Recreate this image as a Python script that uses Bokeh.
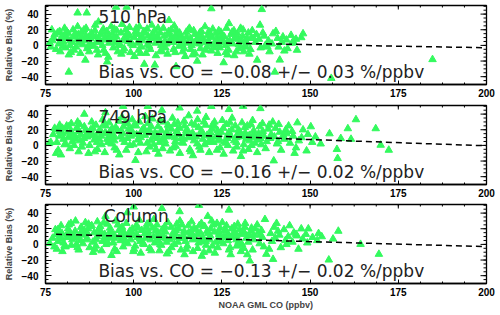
import numpy as np
from bokeh.plotting import figure
from bokeh.layouts import column
from bokeh.models import LinearAxis, Range1d, FixedTicker, Label
from bokeh.embed import file_html
from bokeh.resources import INLINE

# ---------------- data ----------------
panel_titles = ["510 hPa", "749 hPa", "Column"]
bias_texts = ["Bias vs. CO = \u22120.08 +/\u2212 0.03 %/ppbv",
              "Bias vs. CO = \u22120.16 +/\u2212 0.02 %/ppbv",
              "Bias vs. CO = \u22120.13 +/\u2212 0.02 %/ppbv"]
slopes = [-0.08, -0.16, -0.13]
intercepts = [13.0, 31.5, 23.1]
fit_x = [78.0, 200.0]
x_ticks = [75, 100, 125, 150, 175, 200]
y_ticks = [-40, -20, 0, 20, 40]
x_label = "NOAA GML CO (ppbv)"
y_label = "Relative Bias (%)"

x_510 = [76.2, 76.5, 76.8, 77.3, 77.6, 77.0, 78.0, 78.4,
         79.0, 79.4, 78.8, 79.2, 80.3, 80.0, 80.7, 80.4, 81.5, 81.9, 81.2, 81.6,
         82.8, 82.5, 83.1, 82.9, 84.0, 84.3, 83.7, 84.1, 85.2, 85.6, 84.9, 85.3,
         86.5, 86.1, 86.8, 86.4, 87.7, 88.0, 87.4, 87.8, 89.0, 88.7, 89.3, 89.1,
         90.2, 90.6, 89.9, 90.3, 91.4, 91.1, 91.8, 91.5, 92.7, 93.0, 92.4, 92.8,
         93.9, 93.6, 94.2, 94.0, 95.1, 95.5, 94.8, 95.2, 96.4, 96.0, 96.7, 96.5,
         97.6, 97.9, 97.3, 97.7, 98.8, 98.5, 99.1, 98.9, 100.1, 100.5, 99.8, 100.2,
         101.3, 101.0, 101.6, 101.4, 102.5, 102.9, 102.2, 102.6, 103.8, 103.5, 104.1, 103.9,
         105.0, 105.4, 104.7, 105.1, 106.2, 105.9, 106.5, 106.3, 107.5, 107.8, 107.2, 107.6,
         108.7, 108.4, 109.0, 108.8, 109.9, 110.3, 109.6, 110.0, 111.2, 110.9, 111.5, 111.3,
         112.4, 112.8, 112.1, 112.5, 113.6, 113.3, 113.9, 113.7, 114.9, 115.2, 114.6, 115.0,
         116.1, 115.8, 116.4, 116.2, 117.3, 117.7, 117.0, 117.4, 118.6, 118.3, 118.9, 118.7,
         119.8, 120.2, 119.5, 119.9, 121.0, 120.7, 121.3, 121.1, 122.3, 122.6, 122.0, 122.4,
         123.5, 123.2, 123.8, 123.6, 124.7, 125.1, 124.4, 124.8, 126.0, 125.7, 126.3, 126.1,
         127.2, 127.6, 126.9, 127.3, 128.4, 128.1, 128.7, 128.5, 129.7, 130.0, 129.4, 129.8,
         130.9, 130.6, 131.2, 131.0, 132.1, 132.5, 131.8, 132.2,
         133.4, 133.1, 133.6, 134.5, 134.8, 135.8, 135.5, 136.0, 136.3, 137.0, 137.3, 138.2,
         138.5, 139.5, 139.2, 140.0, 140.8, 141.1, 141.4, 142.0, 142.3, 143.3, 143.6, 144.6,
         144.9, 146.0, 146.3, 147.5, 148.0,
         84.1, 86.7, 86.3, 81.6, 95.0, 98.0, 92.5, 103.0, 106.0, 112.0, 122.0, 118.0,
         135.0, 156.0, 184.7, 125.5, 110.0, 90.0, 127.0,
         79.6, 82.0, 84.5, 86.9, 89.4, 91.9, 94.4, 96.9, 99.3, 101.8, 104.3, 106.8,
         109.2, 111.7, 114.2, 116.7, 119.1, 121.6, 124.1, 126.6, 129.1, 131.5]
y_510 = [3, -2, 20, 10, 14, 6, -5, 16,
         18, 8, 2, -8, 12, 5, -3, 22, 15, 0, 9, -12,
         20, 4, -6, 11, 7, 14, -2, 24, 17, 1, -10, 10,
         22, 6, -4, 13, 9, 16, -8, 2, 19, -1, 11, 26,
         5, 14, -12, 8, 21, 0, 10, -6, 13, 3, 18, -15,
         7, 24, -3, 15, 11, -8, 4, 19, 16, 2, 27, -11,
         8, 13, -4, 20, 23, 5, -9, 12, 10, 17, 0, -14,
         14, 3, 24, -6, 6, 18, -2, 10, 21, -10, 12, 1,
         9, 15, -5, 26, 3, 19, 11, -13, 16, 0, 8, -7,
         12, 22, -3, 5, 18, 7, -11, 14, 4, 10, 25, -5,
         15, -1, 20, 8, 7, 13, -8, 1, 17, 3, -14, 11,
         9, 22, 0, -5, 14, 5, 19, -10, 2, 11, -4, 16,
         8, 24, -12, 4, 13, -2, 18, 6, 10, 1, -7, 21,
         4, 15, -10, 9, 17, 7, -3, 12, 0, 11, 22, -9,
         6, 14, -6, 3, 19, 2, 10, -13, 8, -4, 15, 1,
         12, 5, -8, 20, 3, 16, -2, 9,
         10, -5, 19, 4, 14, 26, 8, -3, 46, 12, 0, 6,
         -8, 15, 2, -34, 9, -2, -18.6, 4, 11, 7, -4, 13,
         3, 8, -6, 10, 15,
         41.6, 41.6, -18.7, -34, 49, 49, -21, -24, -25, -27, 47, -20,
         -18.7, -42, -18, -22, 32, 30, 28,
         11, 6, 3, 9, 4, 7, 9, 6, 3, 8, 5, 7,
         2, 12, 6, 3, 10, 2, 1, 5, 9, 0]
x_510_more = [79.9, 81.0, 82.2, 83.5, 84.6, 85.9, 87.1, 88.3, 89.6, 90.9, 92.0, 93.3,
              94.5, 95.7, 97.0, 98.2, 99.4, 100.7, 101.9, 103.2, 104.4, 105.6, 106.9, 108.1,
              109.3, 110.6, 111.8, 113.0, 114.3, 115.5, 116.7, 118.0, 119.2, 120.4, 121.7, 122.9,
              124.1, 125.4, 126.6, 127.9, 129.1, 130.3, 131.6, 132.8, 134.0, 136.6, 137.9, 140.3,
              142.7, 145.2]
y_510_more = [-1, 18, -9, 15, 5, 20, -1, 12, -6, 17, -10, 9,
              21, 0, -7, 16, 2, 22, -10, 16, -1, 12, 22, -8,
              3, 20, -9, 16, -4, 20, -12, 8, 18, -6, 14, -3,
              19, 4, -12, 17, -8, 22, 6, -11, 9, 16, -2, 18,
              -7, 5]

x_749 = [76.0, 76.5, 78.0, 77.2, 77.6,
         78.5, 78.9, 78.2, 78.6, 79.0, 79.7, 80.1, 79.4, 79.8, 81.0, 81.4, 80.7, 81.1,
         82.2, 82.6, 81.9, 82.3, 83.4, 83.8, 83.1, 83.5, 84.7, 85.0, 84.4, 84.8,
         85.9, 86.3, 85.6, 86.0, 87.1, 87.5, 86.8, 87.2, 88.4, 88.8, 88.1, 88.5,
         89.6, 90.0, 89.3, 89.7, 90.8, 91.2, 90.5, 90.9, 92.1, 92.5, 91.8, 92.2,
         93.3, 93.7, 93.0, 93.4, 94.5, 94.9, 94.2, 94.6, 95.8, 96.2, 95.5, 95.9,
         97.0, 97.4, 96.7, 97.1, 98.2, 98.6, 97.9, 98.3, 99.5, 99.9, 99.2, 99.6,
         100.7, 101.1, 100.5, 100.8, 101.9, 102.3, 101.6, 102.0, 103.2, 103.6, 102.9, 103.3,
         104.4, 104.8, 104.1, 104.5, 105.6, 106.0, 105.3, 105.7, 106.9, 107.3, 106.6, 107.0,
         108.1, 108.5, 107.8, 108.2, 109.3, 109.7, 109.0, 109.4, 110.6, 111.0, 110.3, 110.7,
         111.8, 112.2, 111.5, 111.9, 113.0, 113.4, 112.7, 113.1, 114.3, 114.7, 114.0, 114.4,
         115.5, 115.9, 115.2, 115.6, 116.7, 117.1, 116.4, 116.8, 118.0, 118.4, 117.7, 118.1,
         119.2, 119.6, 118.9, 119.3, 120.4, 120.8, 120.1, 120.5, 121.7, 122.1, 121.4, 121.8,
         122.9, 123.3, 122.6, 123.0, 124.1, 124.5, 123.8, 124.2, 125.4, 125.8, 125.1, 125.5,
         126.6, 127.0, 126.3, 126.7, 127.8, 128.2, 127.5, 127.9, 129.1, 129.5, 128.8, 129.2,
         130.3, 130.7, 130.0, 130.4, 131.5, 131.9, 131.2, 131.6, 132.8, 133.2, 132.5, 132.9,
         134.0, 134.4, 133.7, 134.1, 135.3, 135.7, 135.0, 135.4, 136.5, 136.9, 136.2, 136.6,
         137.7, 138.1, 137.4, 139.0, 139.4, 138.7, 139.7, 140.2, 140.6, 139.9,
         141.4, 141.8, 141.1, 142.7, 143.1, 142.4, 143.9, 144.3, 145.2, 145.6, 144.9,
         146.4, 146.8, 147.6, 148.0, 149.0, 149.4, 150.2, 150.6, 151.5, 153.0,
         135.9, 155.5, 160.7, 163.0, 168.6, 170.0, 172.3, 157.6, 157.8, 158.7, 161.6,
         97.0, 104.0, 113.0, 122.0, 127.0, 131.0, 86.0, 92.0, 108.0, 118.0,
         79.6, 82.0, 84.5, 86.9, 89.4, 91.9, 94.4, 96.9, 99.3, 101.8, 104.3, 106.8,
         109.2, 111.7, 114.2, 116.7, 119.1, 121.6, 124.1, 126.6, 129.1, 131.5, 134.0]
y_749 = [2.5, 4, -10, 14, 22,
         20, 12, 4, -6, 26, 15, 8, -12, 22, 25, 10, 2, 17,
         18, 5, -4, 28, 12, 22, 0, 8, 27, 14, -8, 6,
         9, 19, 3, 24, 16, 0, 11, -10, 22, 7, 30, 13,
         4, 17, 26, -5, 12, 33, 20, 1, 25, 8, -9, 15,
         18, 2, 29, 10, 6, 23, 14, -3, 31, 11, 19, -12,
         15, 4, 36, 24, 9, 21, -6, 28, 17, 1, 12, 33,
         25, 7, -19, 14, 3, 19, 30, 10, 13, -8, 22, 37,
         20, 6, 28, -2, 10, 16, 34, 1, 24, 4, 14, -11,
         8, 30, 19, -4, 17, 26, 2, 11, 12, 35, -7, 21,
         5, 18, 27, -1, 22, 9, 14, -10, 31, 15, 3, 25,
         10, -5, 20, 38, 16, 6, 28, -13, 2, 23, 11, 33,
         19, 8, -6, 14, 26, 13, 1, 36, 7, 21, -9, 16,
         30, 11, 4, 24, 14, -3, 19, 9, 22, 5, 32, -11,
         9, 17, 27, 0, 20, -7, 12, 35, 4, 15, 25, -2,
         11, 29, 18, -14, 23, 8, 1, 16, 13, 27, -5, 6,
         19, 3, 32, 10, 7, 24, -9, 15, 28, 12, 1, 18,
         5, 21, -4, 14, 30, 9, -19.6, 22, 2, 11,
         17, -6, 27, 8, 20, 13, 25, 3, 12, -10, 18,
         29, 6, 10, 20, -6.9, 14, 24, 4, 11, 2,
         47.2, 15, 21.5, 33, 21.5, 0.4, -6, -5, -16.6, 9, 8,
         50, 50, 48, 50, 46, 50, 40, 42, 45, 44,
         16, 13, 18, 12, 10, 16, 11, 8, 20, 13, 16, 9,
         14, 10, 8, 11, 17, 12, 6, 13, 10, 12, 14]
x_749_more = [79.1, 80.4, 81.6, 82.8, 84.1, 85.3, 86.5, 87.8, 89.0, 90.2, 91.5, 92.7,
              93.9, 95.2, 96.4, 97.7, 98.9, 100.1, 101.3, 102.6, 103.8, 105.0, 106.3, 107.5,
              108.8, 110.0, 111.2, 112.5, 113.7, 114.9, 116.2, 117.4, 118.6, 119.9, 121.1, 122.3,
              123.6, 124.8, 126.0, 127.3, 128.5, 129.7, 131.0, 132.2, 133.4, 135.9, 138.4, 140.9,
              143.3, 146.0]
y_749_more = [18, 1, 24, 11, 30, -2, 13, 20, -8, 8, 27, 4,
              22, -6, 18, 30, 0, 26, -9, 20, 3, 24, -5, 32,
              6, 24, -3, 29, 4, 19, -8, 26, -2, 30, 4, 26,
              -6, 17, 3, 29, 6, 20, -7, 25, 0, 9, 26, 5,
              15, -3]

x_col = [76.2, 77.0, 77.8, 77.5, 78.0,
         78.5, 78.9, 78.2, 78.6, 79.7, 80.1, 79.4, 79.8, 81.0, 81.4, 80.7, 81.1,
         82.2, 82.6, 81.9, 82.3, 83.4, 83.8, 83.1, 83.5, 84.7, 85.1, 84.4, 84.8,
         85.9, 86.3, 85.6, 86.0, 87.1, 87.5, 86.8, 87.2, 88.4, 88.8, 88.1, 88.5,
         89.6, 90.0, 89.3, 89.7, 90.8, 91.2, 90.5, 90.9, 92.1, 92.5, 91.8, 92.2,
         93.3, 93.7, 93.0, 93.4, 94.5, 94.9, 94.2, 94.6, 95.8, 96.2, 95.5, 95.9,
         97.0, 97.4, 96.7, 97.1, 98.2, 98.6, 97.9, 98.3, 99.5, 99.9, 99.2, 99.6,
         100.7, 101.1, 100.4, 100.8, 101.9, 102.3, 101.6, 102.0, 103.2, 103.6, 102.9, 103.3,
         104.4, 104.8, 104.1, 104.5, 105.6, 106.0, 105.3, 105.7, 106.9, 107.3, 106.6, 107.0,
         108.1, 108.5, 107.8, 108.2, 109.3, 109.7, 109.0, 109.4, 110.6, 111.0, 110.3, 110.7,
         111.8, 112.2, 111.5, 111.9, 113.0, 113.4, 112.7, 113.1, 114.3, 114.7, 114.0, 114.4,
         115.5, 115.9, 115.2, 115.6, 116.7, 117.1, 116.4, 116.8, 118.0, 118.4, 117.7, 118.1,
         119.2, 119.6, 118.9, 119.3, 120.4, 120.8, 120.1, 120.5, 121.7, 122.1, 121.4, 121.8,
         122.9, 123.3, 122.6, 123.0, 124.1, 124.5, 123.8, 124.2, 125.4, 125.8, 125.1, 125.5,
         126.6, 127.0, 126.3, 126.7, 127.8, 128.2, 127.5, 127.9, 129.1, 129.5, 128.8, 129.2,
         130.3, 130.7, 130.0, 130.4, 131.5, 131.9, 131.2, 131.6, 132.8, 133.2, 132.5, 132.9,
         134.0, 134.4, 133.7, 135.3, 135.7, 135.0, 136.5, 136.9, 136.2,
         137.2, 137.6, 138.8, 139.2, 139.5, 139.8, 140.1, 140.5, 141.3, 141.7, 142.6, 143.0,
         143.8, 144.2, 145.0, 145.4, 146.3, 146.7, 147.5, 147.9, 148.8, 149.2, 149.5, 150.7,
         152.0, 152.4, 153.3, 155.3, 156.5, 158.0, 164.3, 169.5,
         108.0, 118.5, 121.0, 100.0, 113.0, 92.0, 127.0,
         79.6, 82.0, 84.5, 86.9, 89.4, 91.9, 94.4, 96.9, 99.3, 101.8, 104.3, 106.8,
         109.2, 111.7, 114.2, 116.7, 119.1, 121.6, 124.1, 126.6, 129.1, 131.5, 134.0]
y_col = [1.5, 8, 19, -3, 13,
         19, 10, -6, 4, 14, 2, 24, -9, 9, 20, -3, 13,
         27, 6, 15, -1, 17, 0, 11, 30, 5, 22, -7, 13,
         12, 28, 1, 18, 20, -4, 8, 26, 3, 15, 24, -10,
         10, 19, -2, 29, 16, 4, 23, -8, 7, 26, 13, 0,
         21, -14, 9, 17, 12, 30, 2, -6, 18, 5, 25, 10,
         -3, 14, 22, 8, 40.6, 11, 27, 1, 16, -9, 6, 20,
         24, 9, -2, 13, 4, 18, 31, -11, 14, 22, 0, 8,
         27, 6, 17, -5, 10, 2, 21, 32, 15, -8, 25, 5,
         19, 9, -1, 12, 3, 28, 16, -12, 22, 11, 6, -4,
         14, 26, 0, 18, 8, -7, 20, 30, 17, 4, 12, -13,
         24, 10, -2, 15, 6, 21, 29, -9, 13, 2, 19, -5,
         27, 9, 15, -15, 4, 17, 23, -1, 11, 30, -8, 20,
         16, 3, 25, -11, 8, 21, -4, 13, 1, 18, 28, 10,
         14, -7, 24, 5, 20, 9, -13, 12, 6, 26, 15, -2,
         13, 0, 19, -9, 22, 8, -5, 27, 11, 17, 3, -21,
         6, 20, -7, 15, 1, 25, 9, -3, 18,
         32, -12.5, 14, 4, -19, 22, 8, 27, 12, -4, 19, 5,
         10, 24, 3, 15, 11, -6, 20, 7, 13, 2, 20, 9,
         5, 14, 10, -19.8, 7, 17, 0.2, -12.5,
         46, 50, 36, 48, 42, 36, 44,
         7, 11, 9, 14, 6, 10, 8, 13, 11, 7, 12, 10,
         7, 9, 8, 12, 4, 6, 16, 9, 11, 14, 12]
x_col_more = [79.1, 80.4, 81.6, 82.8, 84.1, 85.3, 86.5, 87.8, 89.0, 90.2, 91.5, 92.7,
              93.9, 95.2, 96.4, 97.7, 98.9, 100.1, 101.3, 102.6, 103.8, 105.0, 106.3, 107.5,
              108.8, 110.0, 111.2, 112.5, 113.7, 114.9, 116.2, 117.4, 118.6, 119.9, 121.1, 122.3,
              123.6, 124.8, 126.0, 127.3, 128.5, 129.7, 131.0, 132.2, 133.4, 135.9, 138.4, 140.9,
              143.3, 146.0]
y_col_more = [16, -2, 25, 9, -4, 17, 6, 23, -6, 13, 28, 2,
              14, -9, 20, 4, 17, -6, 21, 1, 26, -8, 18, 0,
              23, -9, 15, 3, 25, -6, 16, 7, 24, -10, 14, -2,
              27, 4, 19, -4, 23, 3, 17, -13, 21, 12, -6, 17,
              0, 13]

series_x = [x_510 + x_510_more, x_749 + x_749_more, x_col + x_col_more]
series_y = [y_510 + y_510_more, y_749 + y_749_more, y_col + y_col_more]

# ---------------- styling ----------------
GREEN = "#33FA5E"
TICK_FONT = "Liberation Sans"
TEXT_FONT = "DejaVu Sans"
X_LO, X_HI = 75, 200
Y_LO, Y_HI = -50, 51

x_minor = [float(v) for v in np.arange(75, 200.01, 6.25)]
y_minor = [float(v) for v in np.arange(-50, 50.01, 5)]


def style_axis(ax, major_in, minor_in):
    ax.major_tick_in = major_in
    ax.major_tick_out = 0
    ax.minor_tick_in = minor_in
    ax.minor_tick_out = 0
    ax.axis_line_color = "black"
    ax.axis_line_width = 1.3
    ax.major_tick_line_color = "black"
    ax.minor_tick_line_color = "black"
    ax.major_tick_line_width = 1
    ax.minor_tick_line_width = 1
    ax.major_label_text_font = TICK_FONT
    ax.major_label_text_font_style = "bold"
    ax.major_label_text_font_size = "10px"
    ax.major_label_text_color = "black"


def mirror_ticks(p):
    # right-side y ticks (pointing into the frame)
    p.ray(x=[X_HI] * len(y_ticks), y=y_ticks, length=6, length_units="screen",
          angle=np.pi, line_color="black", line_width=1)
    p.ray(x=[X_HI] * len(y_minor), y=y_minor, length=3, length_units="screen",
          angle=np.pi, line_color="black", line_width=1)
    # top x ticks
    p.ray(x=x_ticks, y=[Y_HI] * len(x_ticks), length=4, length_units="screen",
          angle=-np.pi / 2, line_color="black", line_width=1)
    p.ray(x=x_minor, y=[Y_HI] * len(x_minor), length=2, length_units="screen",
          angle=-np.pi / 2, line_color="black", line_width=1)


def make_panel(i, top, bottom, last):
    h = top + 79 + bottom
    p = figure(width=500, height=h, x_range=Range1d(X_LO, X_HI), y_range=Range1d(Y_LO, Y_HI),
               output_backend="svg", toolbar_location=None,
               min_border_left=43, min_border_right=14,
               min_border_top=top, min_border_bottom=bottom,
               x_axis_location=None, y_axis_location=None)
    p.xgrid.visible = False
    p.ygrid.visible = False
    p.outline_line_color = "black"
    p.outline_line_width = 1.3
    p.background_fill_color = "white"
    p.border_fill_color = "white"

    bx = LinearAxis(ticker=FixedTicker(ticks=x_ticks, minor_ticks=x_minor))
    style_axis(bx, 4, 2)
    bx.major_label_standoff = 4
    if last:
        bx.axis_label = x_label
        bx.axis_label_text_font = TICK_FONT
        bx.axis_label_text_font_style = "bold"
        bx.axis_label_text_font_size = "9px"
        bx.axis_label_standoff = 1
    p.add_layout(bx, "below")

    ly = LinearAxis(ticker=FixedTicker(ticks=y_ticks, minor_ticks=y_minor))
    style_axis(ly, 6, 3)
    ly.major_label_standoff = 7
    ly.axis_label = y_label
    ly.axis_label_text_font = TICK_FONT
    ly.axis_label_text_font_style = "bold"
    ly.axis_label_text_font_size = "9px"
    ly.axis_label_standoff = 5
    p.add_layout(ly, "left")

    p.scatter(series_x[i], series_y[i], marker="triangle", size=7.5,
              fill_color=GREEN, line_color=GREEN)

    mirror_ticks(p)

    fx = np.array(fit_x)
    fy = intercepts[i] + slopes[i] * fx
    p.line(fx, fy, line_color="black", line_width=1.5, line_dash="6 4")

    lx = 91.5 if i == 2 else 90
    p.add_layout(Label(x=lx, y=36, text=panel_titles[i], text_font=TEXT_FONT,
                       text_font_size="17px", text_baseline="middle",
                       text_color="#222222"))
    p.add_layout(Label(x=90, y=-34.5, text=bias_texts[i], text_font=TEXT_FONT,
                       text_font_size="17px", text_baseline="middle",
                       text_color="#222222"))
    return p


p1 = make_panel(0, 5, 16, False)
p2 = make_panel(1, 5, 16, False)
p3 = make_panel(2, 4, 32, True)

layout = column(p1, p2, p3, spacing=0)

html = file_html(layout, INLINE)
html = html.replace("</head>", "<style>html,body{margin:0;padding:0;}</style></head>", 1)
with open("out.html", "w") as f:
    f.write(html)
